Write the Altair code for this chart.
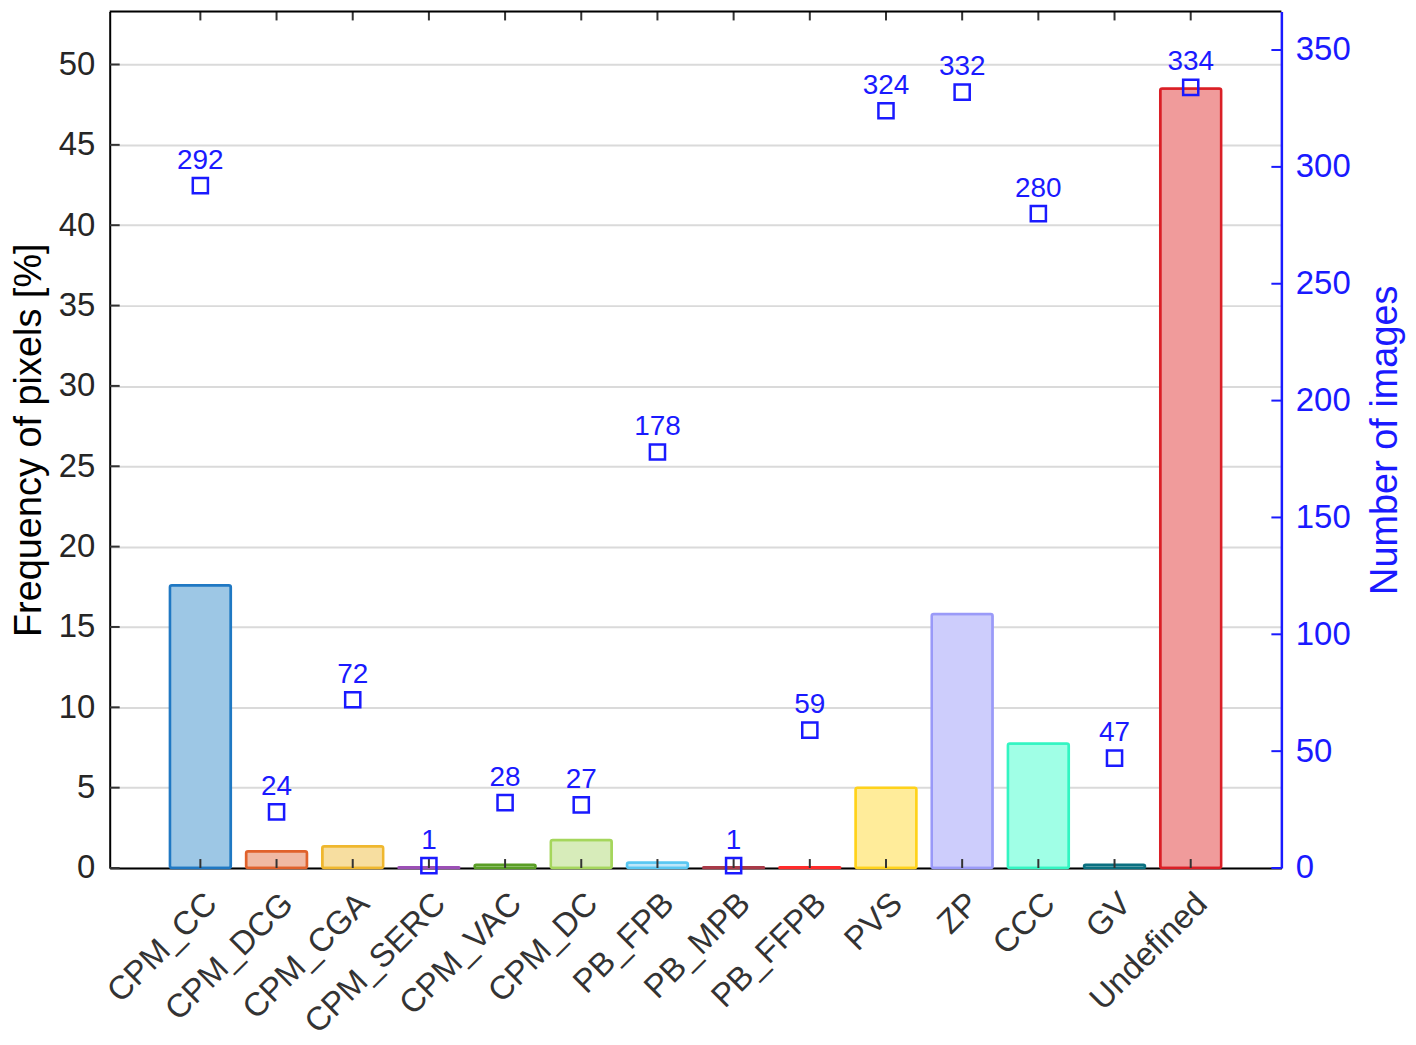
import altair as alt
import pandas as pd

categories = ["CPM_CC", "CPM_DCG", "CPM_CGA", "CPM_SERC", "CPM_VAC", "CPM_DC",
              "PB_FPB", "PB_MPB", "PB_FFPB", "PVS", "ZP", "CCC", "GV", "Undefined"]
freq = [17.6, 1.05, 1.35, 0.05, 0.2, 1.75, 0.35, 0.05, 0.05, 5.0, 15.8, 7.75, 0.2, 48.5]
n_images = [292, 24, 72, 1, 28, 27, 178, 1, 59, 324, 332, 280, 47, 334]
stroke_colors = ["#1f78c3", "#e0612b", "#efb72e", "#9b4fb5", "#5a9e26", "#a5d65c", "#59c7f2",
                 "#a83a48", "#ff2b2b", "#ffd21a", "#9a9af8", "#33f5c2", "#0b7080", "#da1f26"]
fill_colors = ["#9dc7e5", "#f0b9a3", "#f7dea0", "#d4b5e0", "#b5d99a", "#d7ecba", "#bde6f9",
               "#dca8ae", "#ffaaaa", "#ffec9a", "#cdcdfc", "#a0ffe6", "#8cc0c8", "#f09b9b"]
left_ticks = [0, 5, 10, 15, 20, 25, 30, 35, 40, 45, 50]
right_ticks = [0, 50, 100, 150, 200, 250, 300, 350]

df = pd.DataFrame({"cat": categories, "freq": freq, "n": n_images})
lt = pd.DataFrame({"v": left_ticks})
rt = pd.DataFrame({"v": right_ticks})

W, H = 1175, 859
FONT = "Liberation Sans"
BLUE = "#1a1aff"

xscale = alt.Scale(domain=categories, paddingInner=0.2, paddingOuter=0.79)
yl = alt.Scale(domain=[0, 53.3], nice=False, zero=True)
yr = alt.Scale(domain=[0, 366.5], nice=False, zero=True)

x_axis = alt.Axis(title=None, labelAngle=-45, labelAlign="right", labelBaseline="top",
                  labelFontSize=33, labelFont=FONT, labelColor="#333333", labelPadding=19,
                  labelLimit=0, ticks=False, domain=True, domainColor="black", domainWidth=2,
                  grid=False, zindex=0)
left_axis = alt.Axis(
    title="Frequency of pixels [%]", titleFontSize=38, titleFont=FONT,
    titleFontWeight="normal", titleColor="black", titlePadding=10,
    labelFontSize=33, labelFont=FONT, labelColor="#262626", labelPadding=15,
    values=left_ticks, ticks=False, domain=True, domainColor="black", domainWidth=2,
    grid=True, gridColor="#dadada", gridWidth=2, zindex=0)
right_axis = alt.Axis(
    orient="right", title="Number of images", titleFontSize=38, titleFont=FONT,
    titleFontWeight="normal", titleColor=BLUE, titlePadding=16, titleAngle=270,
    titleBaseline="top",
    labelFontSize=33, labelFont=FONT, labelColor=BLUE, labelPadding=14,
    values=right_ticks, ticks=False, domain=True, domainColor=BLUE, domainWidth=2.5,
    grid=False, zindex=1)

x_enc = alt.X("cat:N", scale=xscale, sort=categories, axis=x_axis)

bars = alt.Chart(df).mark_bar(strokeWidth=2.5, cornerRadius=2).encode(
    x=x_enc,
    y=alt.Y("freq:Q", scale=yl, axis=left_axis),
    fill=alt.Fill("cat:N", scale=alt.Scale(domain=categories, range=fill_colors), legend=None),
    stroke=alt.Stroke("cat:N", scale=alt.Scale(domain=categories, range=stroke_colors), legend=None),
)

lticks = alt.Chart(lt).mark_rule(color="#333333", strokeWidth=2).encode(
    y=alt.Y("v:Q", scale=yl, axis=left_axis), x=alt.value(0), x2=alt.value(10))

xticks_bottom = alt.Chart(df).mark_rule(color="#333333", strokeWidth=2).encode(
    x=x_enc, y=alt.value(H), y2=alt.value(H - 9))
xticks_top = alt.Chart(df).mark_rule(color="#333333", strokeWidth=2).encode(
    x=x_enc, y=alt.value(0), y2=alt.value(9))
top_frame = alt.Chart(df.head(1)).mark_rule(color="black", strokeWidth=2).encode(
    x=alt.value(0), x2=alt.value(W), y=alt.value(0))

left = alt.layer(bars, lticks, xticks_bottom, xticks_top, top_frame)

squares = alt.Chart(df).mark_point(shape="square", filled=False, size=230, strokeWidth=2.5,
                                   color=BLUE, opacity=1).encode(
    x=x_enc,
    y=alt.Y("n:Q", scale=yr, axis=right_axis),
)
labels = alt.Chart(df).mark_text(fontSize=28, font=FONT, color=BLUE, baseline="alphabetic",
                                 dy=-17).encode(
    x=x_enc, y=alt.Y("n:Q", scale=yr, axis=right_axis), text=alt.Text("n:Q"))
rticks = alt.Chart(rt).mark_rule(color=BLUE, strokeWidth=2).encode(
    y=alt.Y("v:Q", scale=yr, axis=right_axis), x=alt.value(W), x2=alt.value(W - 10))

right = alt.layer(squares, labels, rticks)

chart = alt.layer(left, right).resolve_scale(y="independent").properties(
    width=W, height=H, padding={"left": 2, "top": 1, "right": 3, "bottom": 0}
).configure_view(stroke="black", strokeWidth=2).configure(background="white")

chart.save("out.html", embed_options={"renderer": "svg", "actions": False})
